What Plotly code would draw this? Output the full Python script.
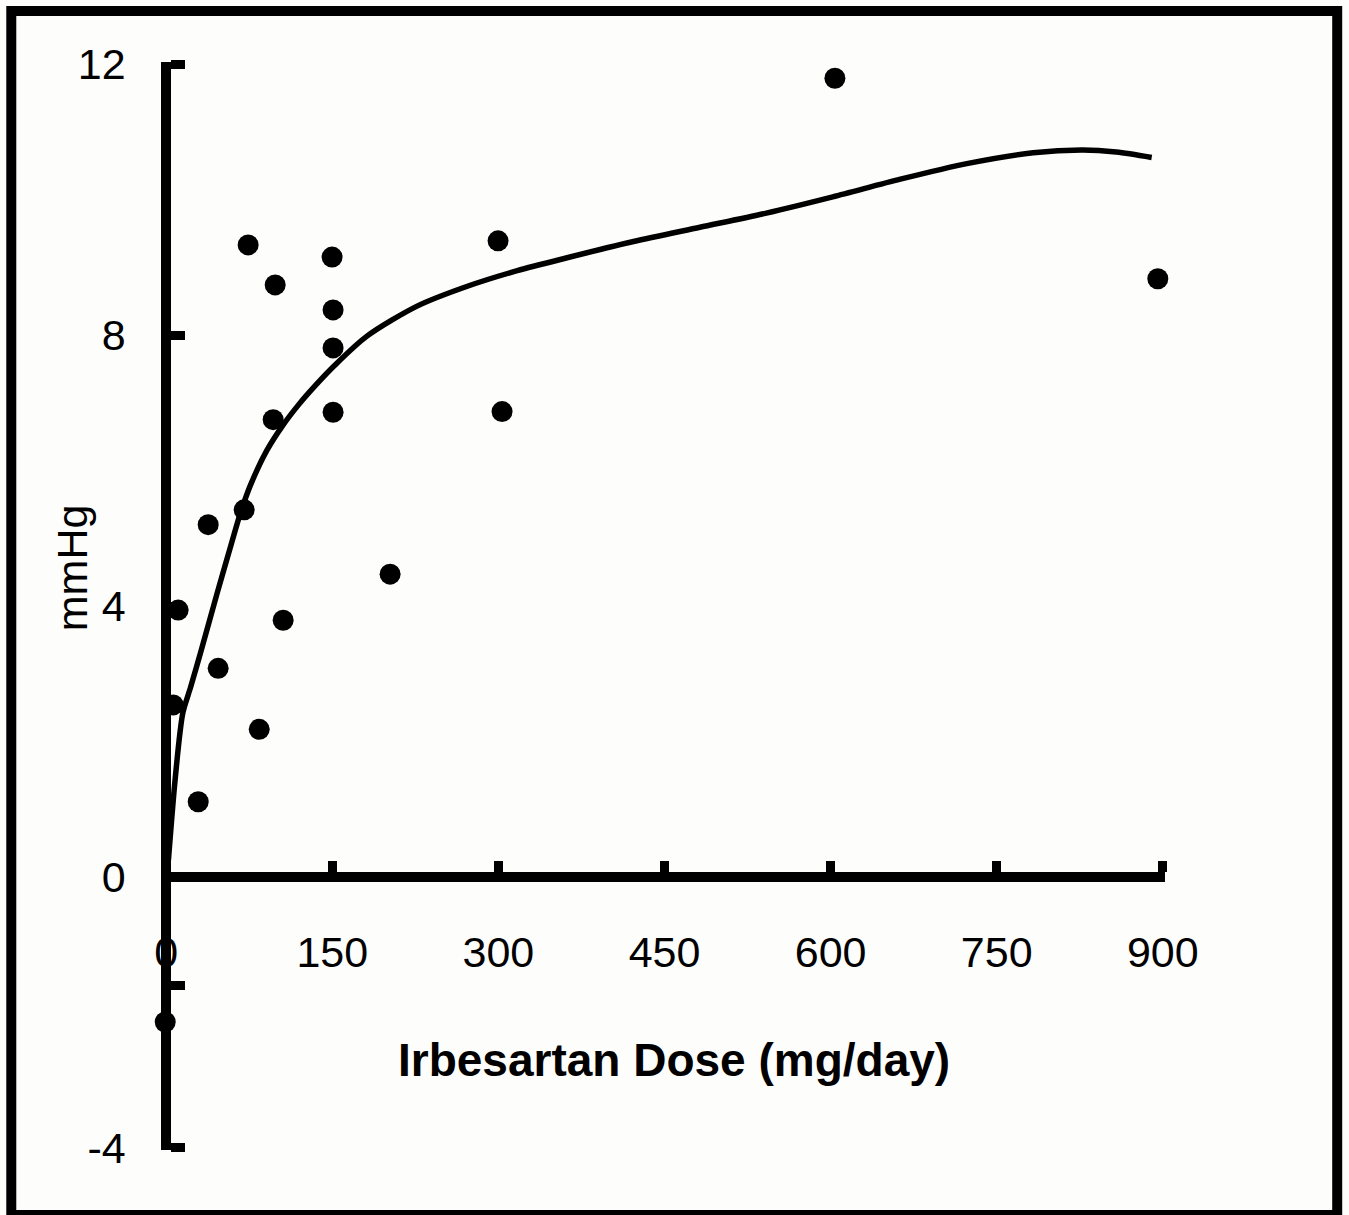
import plotly.graph_objects as go

# ---- data ----
dose = [74.0, 98.4, 149.8, 150.7, 150.7, 96.6, 150.7, 37.9, 70.4, 202.2,
        10.8, 105.6, 46.9, 6.3, 84.0, 28.9, 299.7, 303.3, 603.9, 895.5, -0.9]
mmhg = [9.33, 8.74, 9.15, 8.37, 7.81, 6.75, 6.86, 5.20, 5.42, 4.47,
        3.94, 3.79, 3.08, 2.54, 2.18, 1.11, 9.39, 6.87, 11.79, 8.83, -2.14]

curve_x = [2, 8, 15, 22, 31, 46, 58, 67, 76, 91, 105, 120, 135, 152, 181,
           227, 272, 317, 362, 422, 482, 542, 602, 663, 723, 783, 828, 858, 890]
curve_y = [0.25, 1.43, 2.42, 2.80, 3.31, 4.19, 4.87, 5.37, 5.78, 6.30, 6.66,
           6.98, 7.26, 7.55, 7.98, 8.43, 8.72, 8.95, 9.14, 9.38, 9.59, 9.80,
           10.04, 10.30, 10.53, 10.69, 10.73, 10.70, 10.62]

x_ticks = [0, 150, 300, 450, 600, 750, 900]
x_ticktext = ["0", "150", "300", "450", "600", "750", "900"]
y_ticks = [-4, -1.6, 0, 4, 8, 12]
y_ticktext = ["-4", "", "0", "4", "8", "12"]

# ---- layout geometry (pixels) ----
W, H = 1349, 1215
X_RANGE = [-2, 902]
Y_RANGE = [-4.03, 12.03]
# pixel positions of data x=0 / x=900 and y=12 / y=-4
PX0, PX900 = 166, 1163
PY12, PYM4 = 64, 1148
sx = (PX900 - PX0) / 900.0
sy = (PYM4 - PY12) / 16.0
L = PX0 - (0 - X_RANGE[0]) * sx
R = W - (PX900 + (X_RANGE[1] - 900) * sx)
T = PY12 - (Y_RANGE[1] - 12) * sy
B = H - (PYM4 + (-4 - Y_RANGE[0]) * sy)
PW, PH = W - L - R, H - T - B

def px_x(p):
    return (p - L) / PW

def px_y(p):
    return (H - B - p) / PH

FONT = "Liberation Sans, Arial, Helvetica, sans-serif"
BG = "#fdfdfb"

fig = go.Figure()
fig.add_trace(go.Scatter(
    x=curve_x, y=curve_y, mode="lines",
    line=dict(color="black", width=5.5, shape="spline", smoothing=0.8),
    hoverinfo="skip", cliponaxis=False, showlegend=False))
fig.add_trace(go.Scatter(
    x=dose, y=mmhg, mode="markers",
    marker=dict(color="black", size=21, line=dict(width=0)),
    cliponaxis=False, showlegend=False))

fig.update_layout(
    width=W, height=H,
    margin=dict(l=L, r=R, t=T, b=B, pad=0),
    paper_bgcolor=BG, plot_bgcolor=BG,
    font=dict(family=FONT, color="black", size=43),
    xaxis=dict(range=X_RANGE, anchor="free",
               position=(0 - Y_RANGE[0]) / (Y_RANGE[1] - Y_RANGE[0]),
               showline=True, linewidth=10, linecolor="black",
               ticks="inside", ticklen=11, tickwidth=9, tickcolor="black",
               tickvals=x_ticks, ticktext=x_ticktext,
               tickfont=dict(size=43, family=FONT),
               ticklabelstandoff=33,
               showgrid=False, zeroline=False, layer="below traces"),
    yaxis=dict(range=Y_RANGE, anchor="free",
               position=(0 - X_RANGE[0]) / (X_RANGE[1] - X_RANGE[0]),
               showline=True, linewidth=10, linecolor="black",
               ticks="inside", ticklen=14, tickwidth=9, tickcolor="black",
               tickvals=y_ticks, ticktext=y_ticktext,
               tickfont=dict(size=43, family=FONT),
               ticklabelstandoff=27,
               showgrid=False, zeroline=False, layer="below traces"),
    annotations=[
        dict(text="<b>Irbesartan Dose (mg/day)</b>", xref="paper", yref="paper",
             x=px_x(674), y=px_y(1060), xanchor="center", yanchor="middle",
             showarrow=False, font=dict(size=46, family=FONT, color="black")),
        dict(text="mmHg", xref="paper", yref="paper",
             x=px_x(72), y=px_y(568), xanchor="center", yanchor="middle",
             textangle=-90, showarrow=False,
             font=dict(size=43, family=FONT, color="black")),
    ],
    shapes=[
        dict(type="rect", xref="paper", yref="paper",
             x0=px_x(11), x1=px_x(1337.5), y0=px_y(1215), y1=px_y(11),
             line=dict(color="black", width=10), fillcolor="rgba(0,0,0,0)",
             layer="above"),
    ],
)

fig.write_html("out.html", config={"displayModeBar": False},
               post_script="document.body.style.margin='0';")
